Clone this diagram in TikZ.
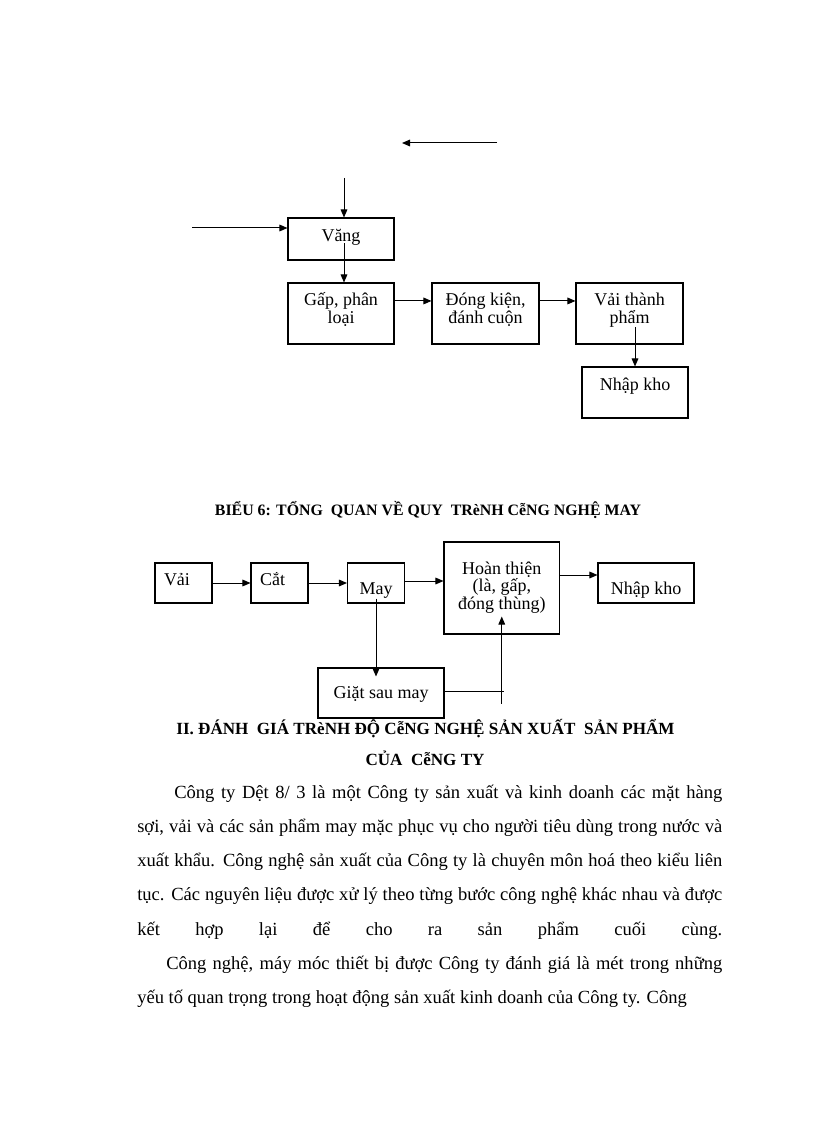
\documentclass[tikz,border=0pt]{standalone}
\usepackage{fontspec}
\setmainfont{Liberation Serif}
\usetikzlibrary{arrows.meta,calc}
\newcommand{\jline}[2]{\makebox[#1][s]{#2}}

\begin{document}
\begin{tikzpicture}[x=0.75pt,y=-0.75pt,
  box/.style={draw, line width=0.8pt, anchor=base, inner xsep=2pt, inner ysep=0pt,
    align=center, font=\fontsize{13.5}{13}\selectfont},
  arr/.style={line width=0.75pt, -{Triangle[length=6pt,width=5pt]}},
  body/.style={anchor=base west, inner sep=0pt, font=\fontsize{13.9}{17}\selectfont}]

  \useasboundingbox (0,0) rectangle (816,1123);

  % Nodes (first chart)
  \node[box, minimum width=79.5pt, text height=17.25pt, text depth=14.25pt] (vang) at (341,241) {Văng};
  \node[box, minimum width=79.5pt, text height=30pt, text depth=15.75pt] (gap) at (341,323) {Gấp, phân\\loại};
  \node[box, minimum width=80.25pt, text height=30pt, text depth=15.75pt] (dong) at (485.5,323) {Đóng kiện,\\đánh cuộn};
  \node[box, minimum width=80.25pt, text height=30pt, text depth=15.75pt] (vaitp) at (629.5,323) {Vải thành\\phẩm};
  \node[box, minimum width=79.5pt, text height=17.25pt, text depth=21pt] (nhapkho) at (635,390) {Nhập kho};

  \coordinate (in1) at (344,178);
  \coordinate (in2) at (192,228);
  \coordinate (t1) at (497,143);
  \coordinate (t2) at (402,143);
  \coordinate (d1) at (635,327);

  \draw[arr] (t1) -- (t2);
  \draw[arr] (in1) -- (in1 |- vang.north);
  \draw[arr] (in2) -- (in2 -| vang.west);
  \draw[arr] ($(in1 |- vang.center)+(0,4)$) -- (in1 |- gap.north);
  \draw[arr] ([yshift=9.4pt]gap.east) -- ([yshift=9.4pt]dong.west);
  \draw[arr] ([yshift=9.4pt]dong.east) -- ([yshift=9.4pt]vaitp.west);
  \draw[arr] (d1) -- (d1 |- nhapkho.north);

  % Title
  \node[anchor=base, font=\bfseries\fontsize{11.9}{14}\selectfont] (bieu) at (428,515)
    {BIỂU 6: TỔNG\ \ QUAN VỀ QUY\ \ TRèNH CễNG NGHỆ MAY};

  % Nodes (second chart)
  \node[box, text width=29.25pt, align=left, inner xsep=6.75pt, text height=16.5pt, text depth=13.5pt] (vai) at (183.5,585) {Vải};
  \node[box, text width=29.25pt, align=left, inner xsep=6.75pt, text height=16.5pt, text depth=13.5pt] (cat) at (279.5,585) {Cắt};
  \node[box, minimum width=42.75pt, text height=23.25pt, text depth=6.75pt] (may) at (376,594) {May};
  \node[box, minimum width=86.6pt, text height=50.25pt, text depth=18.75pt] (hoan) at (501.75,609) {Hoàn thiện\\(là, gấp,\\đóng thùng)};
  \node[box, minimum width=72pt, text height=23.25pt, text depth=6.75pt] (nhap2) at (646,594) {Nhập kho};
  \node[box, minimum width=94.5pt, text height=22.5pt, text depth=15pt] (giat) at (381,698) {Giặt sau may};

  \draw[arr] (vai) -- (cat);
  \draw[arr] (cat) -- (may);
  \draw[arr] ([yshift=1.5pt]may.east) -- ([yshift=1.5pt]may.east -| hoan.west);
  \draw[arr] ([yshift=9.75pt]hoan.east) -- ([yshift=9.75pt]hoan.east -| nhap2.west);
  \draw[arr] ($(may.south)+(0,-5)$) -- ($(giat.north -| may.south)+(0,9)$);
  \draw[line width=0.75pt] ([yshift=1.5pt]giat.east) -- ++(59,0);
  \draw[arr] ($(hoan.south)+(0,69)$) -- ($(hoan.south)+(0,-18)$);

  % Heading
  \node[anchor=base, font=\bfseries\fontsize{12.8}{15}\selectfont] (muc) at (425.5,734)
    {II. ĐÁNH\ \ GIÁ TRèNH ĐỘ CễNG NGHỆ SẢN XUẤT\ \ SẢN PHẨM};
  \node[anchor=base, font=\bfseries\fontsize{12.8}{15}\selectfont] (muc2) at (425,765) {CỦA\ \ CễNG TY};

  % Body text
  \node[body] (l1) at (174,798) {\jline{411pt}{Công ty Dệt 8/ 3 là một Công ty sản xuất và kinh doanh các mặt hàng}};
  \node[body] (l2) at (137,832) {\jline{438.75pt}{sợi, vải và các sản phẩm may mặc phục vụ cho người tiêu dùng trong nước và}};
  \node[body] (l3) at (137,866) {\jline{438.75pt}{xuất khẩu. Công nghệ sản xuất của Công ty là chuyên môn hoá theo kiểu liên}};
  \node[body] (l4) at (137,900.5) {\jline{438.75pt}{tục. Các nguyên liệu được xử lý theo từng bước công nghệ khác nhau và được}};
  \node[body] (l5) at (137,935) {\jline{438.75pt}{kết hợp lại để cho ra sản phẩm cuối cùng.}};
  \node[body] (l6) at (166,969) {\jline{417pt}{Công nghệ, máy móc thiết bị được Công ty đánh giá là mét trong những}};
  \node[body] (l7) at (137,1003) {yếu tố quan trọng trong hoạt động sản xuất kinh doanh của Công ty. Công};

\end{tikzpicture}
\end{document}
